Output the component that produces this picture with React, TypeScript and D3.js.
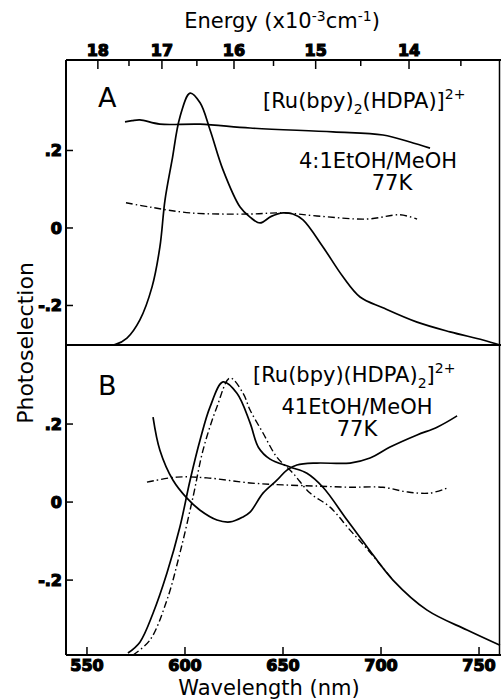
import { useEffect, useRef } from "react";
import * as d3 from "d3";

// panel A curves (wavelength nm, photoselection)
const aEmWl = [560, 564.3, 570.4, 577, 583.2, 587.2, 589.8, 593.4, 597.4, 602.6, 607.7, 612.8, 619.4, 628.1, 633.2, 638.3, 644, 650, 655, 660.2, 670.4, 680.6, 689.3, 701, 718.4, 735.2, 752, 760.7];
const aEmVal = [-0.302, -0.301, -0.284, -0.237, -0.152, -0.049, 0.072, 0.175, 0.286, 0.348, 0.323, 0.253, 0.15, 0.054, 0.028, 0.013, 0.03, 0.039, 0.036, 0.021, -0.049, -0.126, -0.178, -0.206, -0.243, -0.268, -0.289, -0.302];
const aFlatWl = [569.4, 573, 577, 587.2, 607.7, 633.2, 675.5, 701, 714.8, 725];
const aFlatVal = [0.274, 0.277, 0.279, 0.268, 0.268, 0.258, 0.248, 0.24, 0.222, 0.206];
const aDashWl = [569.9, 582.1, 602.6, 633.2, 650, 667.3, 692.9, 709.7, 718.4];
const aDashVal = [0.065, 0.054, 0.039, 0.036, 0.039, 0.031, 0.023, 0.034, 0.023];

// panel B curves
const bEmWl = [570.9, 577, 583.7, 590.8, 597.4, 602.6, 607.7, 612.8, 619.4, 626.5, 633.2, 637.5, 643.4, 653.6, 662.2, 670.4, 682.7, 692.9, 706.1, 723.5, 743.9, 760.7];
const bEmVal = [-0.387, -0.359, -0.285, -0.182, -0.064, 0.056, 0.159, 0.244, 0.308, 0.279, 0.203, 0.14, 0.11, 0.09, 0.074, 0.038, -0.046, -0.115, -0.2, -0.277, -0.328, -0.367];
const bEm2Wl = [573.5, 582.1, 590.8, 597.4, 604.1, 609.2, 616.3, 623, 629.6, 633.2, 639.8, 646.9, 655.1, 663.8, 674, 684.2, 692.9, 706.1];
const bEm2Val = [-0.392, -0.354, -0.251, -0.131, 0.013, 0.133, 0.244, 0.318, 0.279, 0.236, 0.177, 0.115, 0.074, 0.023, -0.013, -0.072, -0.12, -0.2];
const bPsWl = [583.7, 587.2, 593.9, 601, 607.7, 616.3, 623, 629.6, 633.2, 639.8, 646.9, 652, 657.1, 667.3, 684.2, 694.4, 704.6, 718.4, 728.6, 738.8];
const bPsVal = [0.218, 0.133, 0.056, 0.01, -0.021, -0.046, -0.051, -0.038, -0.026, 0.023, 0.056, 0.082, 0.095, 0.1, 0.1, 0.113, 0.141, 0.172, 0.192, 0.221];
const bDashWl = [580.6, 595.9, 611.2, 633.2, 650, 667.3, 684.2, 701, 713.3, 725, 733.7];
const bDashVal = [0.051, 0.064, 0.062, 0.049, 0.044, 0.041, 0.038, 0.038, 0.026, 0.023, 0.036];

// axes
const wlTicks = [550, 600, 650, 700, 750];
const energyMajor = [18, 17, 16, 15, 14];
const energyMinor = [17.5, 16.5, 15.5, 14.5, 13.5];
const yTicks = [0.2, 0, -0.2];
const yTickLabels = [".2", "0", "-.2"];

const App = () => {
  const svgRef = useRef(null);

  useEffect(() => {
    const svg = d3.select(svgRef.current);
    svg.selectAll("*").remove();

    const left = 66, right = 500, top = 60, mid = 345, bottom = 655;
    const x = d3.scaleLinear().domain([539.3, 760.7]).range([left, right]);
    const yA = d3.scaleLinear().domain([-0.302, 0.4335]).range([mid, top]);
    const yB = d3.scaleLinear().domain([-0.392, 0.4026]).range([bottom, mid]);
    const font = "'DejaVu Sans', sans-serif";
    const eToX = (e) => x(1e4 / e);

    // heavy tick labels like the printed figure
    const tickText = (sel, size) =>
      sel.attr("fill", "#000").attr("stroke", "#000").attr("stroke-width", 1.2)
        .style("font", `bold ${size}px 'DejaVu Sans', sans-serif`);

    // frame
    const frame = svg.append("g").attr("stroke", "#000").attr("stroke-width", 2);
    frame.append("line").attr("x1", left).attr("x2", 501).attr("y1", top).attr("y2", top);
    frame.append("line").attr("x1", left).attr("x2", 501).attr("y1", mid).attr("y2", mid);
    frame.append("line").attr("x1", left).attr("x2", 501).attr("y1", bottom).attr("y2", bottom);
    frame.append("line").attr("x1", left).attr("x2", left).attr("y1", top).attr("y2", bottom);
    frame.append("line").attr("x1", 499.5).attr("x2", 499.5).attr("y1", top).attr("y2", bottom).attr("stroke-width", 1.5);

    const ticks = svg.append("g").attr("stroke", "#000").attr("stroke-width", 1.5);

    // bottom wavelength axis, ticks pointing inward
    ticks.append("g").selectAll("line").data(wlTicks).join("line")
      .attr("x1", (d) => x(d)).attr("x2", (d) => x(d)).attr("y1", bottom).attr("y2", bottom - 8);
    tickText(svg.append("g").selectAll("text").data(wlTicks).join("text")
      .attr("x", (d) => x(d)).attr("y", 671).attr("text-anchor", "middle").text((d) => d), 16);

    // top energy axis
    ticks.append("g").selectAll("line").data(energyMajor).join("line")
      .attr("x1", eToX).attr("x2", eToX).attr("y1", top).attr("y2", top + 9);
    ticks.append("g").selectAll("line").data(energyMinor).join("line")
      .attr("x1", eToX).attr("x2", eToX).attr("y1", top).attr("y2", top + 6);
    tickText(svg.append("g").selectAll("text").data(energyMajor).join("text")
      .attr("x", eToX).attr("y", 56).attr("text-anchor", "middle").text((d) => d), 16);

    // y axes
    [yA, yB].forEach((y) => {
      ticks.append("g").selectAll("line").data(yTicks).join("line")
        .attr("x1", left).attr("x2", left + 7).attr("y1", (d) => y(d)).attr("y2", (d) => y(d));
      tickText(svg.append("g").selectAll("text").data(yTicks).join("text")
        .attr("x", left - 4).attr("y", (d) => y(d) + 6).attr("text-anchor", "end")
        .text((d, i) => yTickLabels[i]), 16);
    });

    // curves
    const draw = (wl, val, y, dashed) => {
      const line = d3.line().x((d) => x(d[0])).y((d) => y(d[1])).curve(d3.curveCatmullRom.alpha(0.5));
      svg.append("path").datum(wl.map((w, i) => [w, val[i]]))
        .attr("d", line).attr("fill", "none").attr("stroke", "#000")
        .attr("stroke-width", dashed ? 1.4 : 1.7)
        .attr("stroke-dasharray", dashed ? "7,3,1.5,3" : null);
    };
    draw(aEmWl, aEmVal, yA, false);
    draw(aFlatWl, aFlatVal, yA, false);
    draw(aDashWl, aDashVal, yA, true);
    draw(bEmWl, bEmVal, yB, false);
    draw(bEm2Wl, bEm2Val, yB, true);
    draw(bPsWl, bPsVal, yB, false);
    draw(bDashWl, bDashVal, yB, true);

    // labels
    const txt = (tx, ty, size, anchor = "start") =>
      svg.append("text").attr("x", tx).attr("y", ty).attr("font-family", font)
        .attr("font-size", size).attr("text-anchor", anchor).attr("fill", "#000");

    txt(98, 107, 27).text("A");
    txt(98, 395, 27).text("B");

    const formulaA = txt(263, 108, 21);
    formulaA.append("tspan").text("[Ru(bpy)");
    formulaA.append("tspan").attr("dy", 6).attr("font-size", 14).text("2");
    formulaA.append("tspan").attr("dy", -6).text("(HDPA)]");
    formulaA.append("tspan").attr("dy", -9).attr("font-size", 14).text("2+");

    const formulaB = txt(253, 382, 21);
    formulaB.append("tspan").text("[Ru(bpy)(HDPA)");
    formulaB.append("tspan").attr("dy", 6).attr("font-size", 14).text("2");
    formulaB.append("tspan").attr("dy", -6).text("]");
    formulaB.append("tspan").attr("dy", -9).attr("font-size", 14).text("2+");

    txt(378, 168, 21, "middle").text("4:1EtOH/MeOH");
    txt(392, 190, 21, "middle").text("77K");
    txt(357, 414, 21, "middle").text("41EtOH/MeOH");
    txt(357, 436, 21, "middle").text("77K");

    txt(282, 28, 21, "middle").html('Energy (x10<tspan dy="-7" font-size="14">-3</tspan><tspan dy="7">cm</tspan><tspan dy="-7" font-size="14">-1</tspan><tspan dy="7">)</tspan>');
    txt(269, 695, 21, "middle").text("Wavelength (nm)");
    txt(0, 0, 22, "middle").attr("transform", "translate(33,343) rotate(-90)").text("Photoselection");
  }, []);

  return (
    <svg ref={svgRef} width={501} height={700} style={{ position: "absolute", left: 0, top: 0, background: "#fff" }} />
  );
};

export default App;
